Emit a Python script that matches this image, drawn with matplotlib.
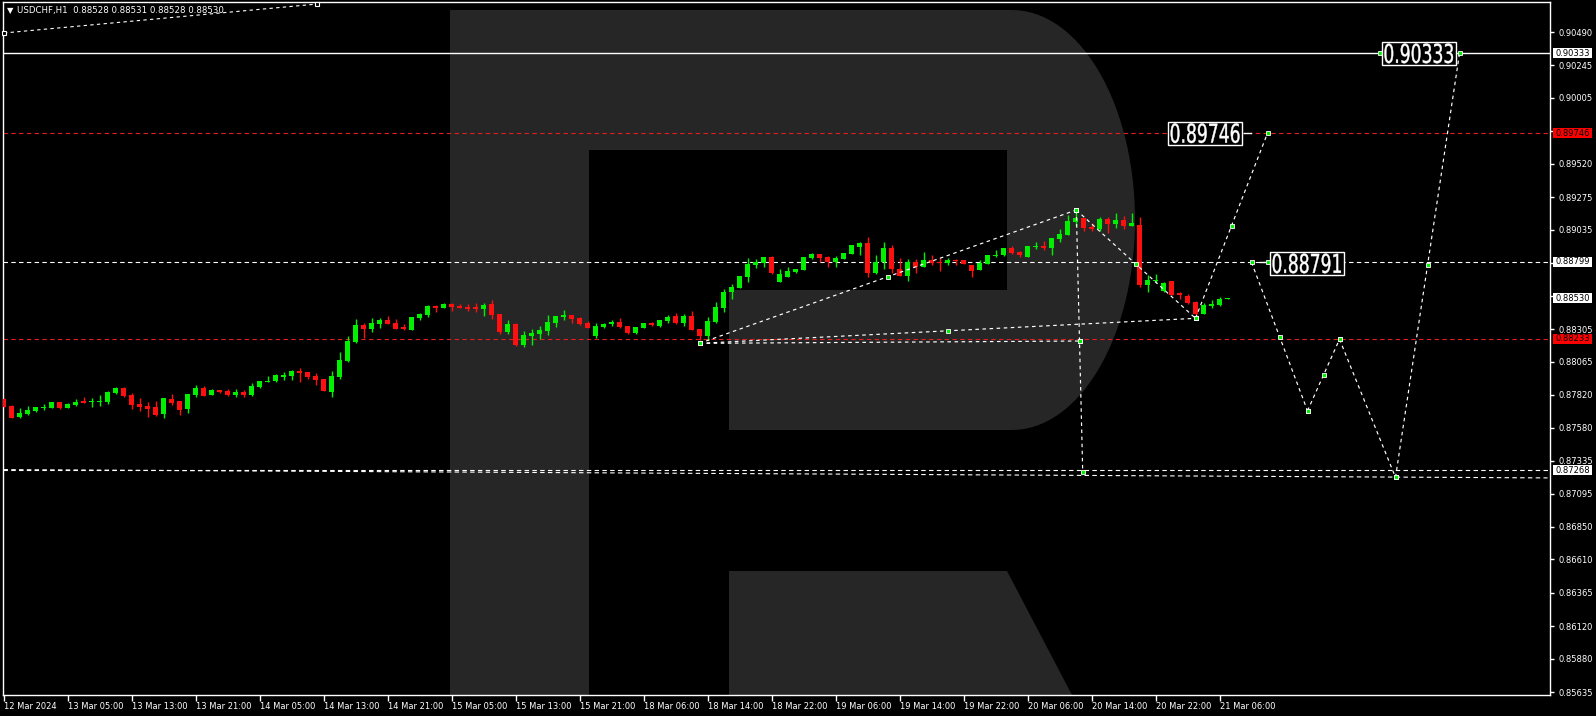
import numpy as np
import matplotlib.pyplot as plt
from matplotlib.patches import Polygon, PathPatch, Rectangle
from matplotlib.textpath import TextPath
from matplotlib.font_manager import FontProperties
from matplotlib.transforms import Affine2D, IdentityTransform

# hourly candles, 12 Mar 21:00 .. 21 Mar 07:00
opens = [0.87790, 0.87739, 0.87658, 0.87680, 0.87702, 0.87724, 0.87726, 0.87768, 0.87726, 0.87746,
         0.87778, 0.87768, 0.87770, 0.87768, 0.87837, 0.87871, 0.87820, 0.87753, 0.87741, 0.87731,
         0.87682, 0.87790, 0.87775, 0.87716, 0.87822, 0.87871, 0.87822, 0.87856, 0.87849, 0.87822,
         0.87842, 0.87822, 0.87878, 0.87918, 0.87925, 0.87954, 0.87962, 0.87996, 0.87989, 0.87959,
         0.87937, 0.87844, 0.87954, 0.88070, 0.88207, 0.88335, 0.88305, 0.88342, 0.88372, 0.88349,
         0.88322, 0.88300, 0.88386, 0.88411, 0.88474, 0.88462, 0.88489, 0.88474, 0.88467, 0.88467,
         0.88452, 0.88489, 0.88416, 0.88283, 0.88342, 0.88188, 0.88254, 0.88269, 0.88291, 0.88349,
         0.88394, 0.88408, 0.88386, 0.88349, 0.88254, 0.88320, 0.88342, 0.88357, 0.88327, 0.88276,
         0.88313, 0.88349, 0.88327, 0.88362, 0.88398, 0.88352, 0.88401, 0.88305, 0.88256, 0.88359,
         0.88462, 0.88577, 0.88607, 0.88690, 0.88776, 0.88793, 0.88835, 0.88650, 0.88690, 0.88724,
         0.88739, 0.88827, 0.88857, 0.88835, 0.88798, 0.88823, 0.88857, 0.88908, 0.88938, 0.88717,
         0.88798, 0.88901, 0.88747, 0.88697, 0.88798, 0.88761, 0.88813, 0.88800, 0.88791, 0.88815,
         0.88813, 0.88776, 0.88739, 0.88786, 0.88845, 0.88850, 0.88904, 0.88874, 0.88838, 0.88906,
         0.88916, 0.88904, 0.88970, 0.89000, 0.89095, 0.89122, 0.89058, 0.89041, 0.89115, 0.89080,
         0.89107, 0.89066, 0.89071, 0.88629, 0.88659, 0.88585, 0.88659, 0.88568, 0.88548, 0.88504,
         0.88416, 0.88477, 0.88482, 0.88528]
highs = [0.87795, 0.87744, 0.87724, 0.87739, 0.87731, 0.87753, 0.87770, 0.87770, 0.87761, 0.87788,
         0.87805, 0.87795, 0.87820, 0.87849, 0.87878, 0.87878, 0.87832, 0.87795, 0.87768, 0.87775,
         0.87795, 0.87827, 0.87775, 0.87827, 0.87893, 0.87883, 0.87861, 0.87856, 0.87864, 0.87864,
         0.87856, 0.87910, 0.87923, 0.87959, 0.87977, 0.87989, 0.88006, 0.88018, 0.87989, 0.87981,
         0.87937, 0.87994, 0.88136, 0.88254, 0.88379, 0.88347, 0.88386, 0.88384, 0.88398, 0.88379,
         0.88342, 0.88394, 0.88425, 0.88482, 0.88482, 0.88494, 0.88497, 0.88487, 0.88487, 0.88497,
         0.88497, 0.88519, 0.88416, 0.88372, 0.88349, 0.88291, 0.88305, 0.88327, 0.88408, 0.88401,
         0.88445, 0.88408, 0.88394, 0.88364, 0.88349, 0.88349, 0.88372, 0.88386, 0.88327, 0.88320,
         0.88349, 0.88357, 0.88371, 0.88408, 0.88420, 0.88413, 0.88438, 0.88305, 0.88391, 0.88504,
         0.88599, 0.88636, 0.88695, 0.88827, 0.88820, 0.88835, 0.88842, 0.88747, 0.88761, 0.88747,
         0.88835, 0.88867, 0.88857, 0.88842, 0.88842, 0.88867, 0.88923, 0.88945, 0.88982, 0.88850,
         0.88945, 0.88923, 0.88827, 0.88820, 0.88820, 0.88872, 0.88850, 0.88827, 0.88827, 0.88823,
         0.88813, 0.88776, 0.88813, 0.88850, 0.88886, 0.88899, 0.88916, 0.88879, 0.88916, 0.88945,
         0.88953, 0.88972, 0.89041, 0.89144, 0.89181, 0.89122, 0.89085, 0.89129, 0.89129, 0.89159,
         0.89137, 0.89159, 0.89129, 0.88703, 0.88710, 0.88649, 0.88659, 0.88578, 0.88561, 0.88511,
         0.88494, 0.88519, 0.88538, 0.88531]
lows = [0.87729, 0.87650, 0.87653, 0.87672, 0.87697, 0.87709, 0.87721, 0.87719, 0.87721, 0.87739,
        0.87758, 0.87734, 0.87741, 0.87756, 0.87824, 0.87807, 0.87719, 0.87702, 0.87660, 0.87665,
        0.87653, 0.87744, 0.87675, 0.87690, 0.87807, 0.87812, 0.87820, 0.87837, 0.87815, 0.87807,
        0.87807, 0.87815, 0.87873, 0.87918, 0.87915, 0.87932, 0.87932, 0.87915, 0.87940, 0.87896,
        0.87849, 0.87807, 0.87940, 0.88062, 0.88200, 0.88237, 0.88286, 0.88315, 0.88342, 0.88305,
        0.88300, 0.88300, 0.88374, 0.88396, 0.88433, 0.88457, 0.88438, 0.88457, 0.88438, 0.88433,
        0.88401, 0.88379, 0.88271, 0.88271, 0.88180, 0.88173, 0.88188, 0.88232, 0.88261, 0.88320,
        0.88372, 0.88349, 0.88335, 0.88313, 0.88239, 0.88313, 0.88327, 0.88313, 0.88269, 0.88269,
        0.88313, 0.88327, 0.88322, 0.88347, 0.88342, 0.88330, 0.88300, 0.88224, 0.88224, 0.88347,
        0.88433, 0.88528, 0.88607, 0.88651, 0.88756, 0.88764, 0.88710, 0.88650, 0.88690, 0.88717,
        0.88739, 0.88820, 0.88798, 0.88761, 0.88761, 0.88820, 0.88857, 0.88850, 0.88688, 0.88710,
        0.88747, 0.88715, 0.88697, 0.88658, 0.88717, 0.88761, 0.88776, 0.88732, 0.88776, 0.88778,
        0.88786, 0.88688, 0.88739, 0.88786, 0.88837, 0.88843, 0.88860, 0.88838, 0.88838, 0.88894,
        0.88887, 0.88852, 0.88948, 0.89000, 0.89063, 0.89029, 0.89024, 0.89029, 0.89014, 0.89051,
        0.89044, 0.89066, 0.88617, 0.88580, 0.88646, 0.88580, 0.88556, 0.88526, 0.88490, 0.88404,
        0.88416, 0.88463, 0.88475, 0.88528]
closes = [0.87734, 0.87653, 0.87687, 0.87709, 0.87729, 0.87731, 0.87768, 0.87726, 0.87753, 0.87768,
          0.87763, 0.87775, 0.87775, 0.87842, 0.87871, 0.87815, 0.87748, 0.87734, 0.87716, 0.87672,
          0.87795, 0.87761, 0.87712, 0.87827, 0.87871, 0.87815, 0.87856, 0.87844, 0.87822, 0.87842,
          0.87820, 0.87886, 0.87923, 0.87923, 0.87969, 0.87969, 0.87996, 0.87981, 0.87954, 0.87932,
          0.87849, 0.87959, 0.88077, 0.88217, 0.88335, 0.88305, 0.88349, 0.88374, 0.88342, 0.88305,
          0.88305, 0.88394, 0.88418, 0.88474, 0.88462, 0.88489, 0.88467, 0.88460, 0.88452, 0.88452,
          0.88482, 0.88411, 0.88283, 0.88342, 0.88188, 0.88261, 0.88278, 0.88298, 0.88357, 0.88401,
          0.88408, 0.88379, 0.88342, 0.88313, 0.88327, 0.88342, 0.88357, 0.88320, 0.88276, 0.88320,
          0.88349, 0.88335, 0.88371, 0.88393, 0.88352, 0.88401, 0.88300, 0.88256, 0.88364, 0.88465,
          0.88577, 0.88614, 0.88695, 0.88783, 0.88798, 0.88835, 0.88717, 0.88710, 0.88732, 0.88747,
          0.88835, 0.88857, 0.88830, 0.88798, 0.88827, 0.88867, 0.88923, 0.88938, 0.88717, 0.88798,
          0.88901, 0.88747, 0.88697, 0.88798, 0.88764, 0.88813, 0.88791, 0.88793, 0.88813, 0.88808,
          0.88786, 0.88732, 0.88791, 0.88850, 0.88850, 0.88899, 0.88867, 0.88847, 0.88916, 0.88916,
          0.88904, 0.88972, 0.89004, 0.89098, 0.89122, 0.89051, 0.89044, 0.89115, 0.89080, 0.89107,
          0.89066, 0.89085, 0.88629, 0.88666, 0.88668, 0.88641, 0.88556, 0.88553, 0.88499, 0.88416,
          0.88482, 0.88489, 0.88529, 0.88530]

tick_pos = [0, 8, 16, 24, 32, 40, 48, 56, 64, 72, 80, 88, 96, 104, 112, 120, 128, 136, 144, 152]
tick_labels = ["12 Mar 2024", "13 Mar 05:00", "13 Mar 13:00", "13 Mar 21:00", "14 Mar 05:00",
               "14 Mar 13:00", "14 Mar 21:00", "15 Mar 05:00", "15 Mar 13:00", "15 Mar 21:00",
               "18 Mar 06:00", "18 Mar 14:00", "18 Mar 22:00", "19 Mar 06:00", "19 Mar 14:00",
               "19 Mar 22:00", "20 Mar 06:00", "20 Mar 14:00", "20 Mar 22:00", "21 Mar 06:00"]
price_ticks = [0.90490, 0.90245, 0.90005, 0.89760, 0.89520, 0.89275, 0.89035, 0.88790, 0.88550,
               0.88305, 0.88065, 0.87820, 0.87580, 0.87335, 0.87095, 0.86850, 0.86610, 0.86365,
               0.86120, 0.85880, 0.85635]
hidden_ticks = [0.89760, 0.88790, 0.88550]   # covered by the price tags

# levels drawn across the chart
level_solid = 0.90333
levels_red = [0.89746, 0.88233]
levels_white = [0.88799, 0.87268]
support_x = [0, 193]
support_y = [0.87271, 0.87210]
old_trend_x = [0.06, 39.2]
old_trend_y = [0.90483, 0.90696]

# swing points of the analysis
L0 = (87, 0.88200)
PK = (134.1, 0.89181)
A = (149, 0.88384)
B0 = (134.9, 0.87253)
C = (158, 0.89746)
# second forecast path
path_x = [156, 163, 167, 174, 182]
path_y = [0.88796, 0.87704, 0.88230, 0.87214, 0.90333]

# axis price tags: value, colour
tags = [(0.90333, "white"), (0.89746, "#ff0000"), (0.88799, "white"),
        (0.88530, "white"), (0.88233, "#ff0000"), (0.87268, "white")]
# big boxed targets: text, bar position, price
targets = [("0.89746", 150.2, 0.89746), ("0.88791", 162.9, 0.88788), ("0.90333", 176.9, 0.90333)]

GREEN = "#00f000"
RED = "#ff1010"
RED_LINE = "#e02020"
WM = "#262626"
FS = 6

fig = plt.figure(figsize=(15.96, 7.16), dpi=100, facecolor="black")

# watermark "R" in pixel coordinates
bg = fig.add_axes([0, 0, 1, 1])
bg.set_xlim(0, 1596)
bg.set_ylim(716, 0)
bg.axis("off")
t = np.linspace(np.pi / 2, -np.pi / 2, 60)
arc = np.column_stack([1012 + 123 * np.cos(t), 220 - 210 * np.sin(t)])
r_body = np.vstack([[[450, 10]], arc, [[729, 430], [729, 290], [1007, 290], [1007, 150],
                                        [589, 150], [589, 695], [450, 695]]])
bg.add_patch(Polygon(r_body, closed=True, fc=WM, ec="none"))
bg.add_patch(Polygon([[729, 571], [1007, 571], [1072, 695], [729, 695]], closed=True, fc=WM, ec="none"))

ax = fig.add_axes([3 / 1596, 21 / 716, 1547 / 1596, 693 / 716])
ax.set_facecolor("none")
ax.set_xlim(-0.0625, 193.31)
ax.set_ylim(0.85613, 0.90711)

o = np.array(opens); h = np.array(highs); l = np.array(lows); c = np.array(closes)
x = np.arange(len(c))
col = np.where(c >= o, GREEN, RED)
ax.vlines(x, l, h, colors=col, lw=1, zorder=3)
lo = np.minimum(o, c)
hh = np.abs(c - o)
minh = 0.00007
bot = np.where(hh < minh, lo - (minh - hh) / 2, lo)
ax.bar(x, np.maximum(hh, minh), bottom=bot, width=0.68, color=col, lw=0, zorder=3)

# horizontal levels
ax.axhline(level_solid, color="white", lw=1, zorder=2)
for v in levels_red:
    ax.axhline(v, color=RED_LINE, lw=0.8, ls=(0, (4, 3)), zorder=2)
for v in levels_white:
    ax.axhline(v, color="white", lw=0.8, ls=(0, (4, 3)), zorder=2)
ax.plot(support_x, support_y, color="white", lw=0.8, ls=(0, (4, 3)), zorder=2)
ax.plot(old_trend_x, old_trend_y, color="white", lw=0.8, ls=(0, (3, 3)), zorder=2)
ax.plot(old_trend_x, old_trend_y, ls="none", marker="s", ms=3.5, mfc="black", mec="white",
        mew=0.8, zorder=4, clip_on=False)

dash = dict(color="white", lw=0.85, ls=(0, (3, 3)), zorder=4)
mk = dict(ls="none", marker="s", ms=3.2, mfc=GREEN, mec="white", mew=0.6, zorder=5)


def seg(p, q, mid=True):
    ax.plot([p[0], q[0]], [p[1], q[1]], **dash)
    pts = [p, q]
    if mid:
        pts.append(((p[0] + q[0]) / 2, (p[1] + q[1]) / 2))
    ax.plot([a[0] for a in pts], [a[1] for a in pts], **mk)


M = ((PK[0] + B0[0]) / 2, (PK[1] + B0[1]) / 2)
seg(L0, PK)
seg(L0, A)
seg(PK, B0)
seg(L0, M, mid=False)
seg(PK, A)
seg(A, C)
pts = list(zip(path_x, path_y))
for i in range(len(pts) - 1):
    seg(pts[i], pts[i + 1], mid=(i != 2))

ax.plot([C[0] - 3.0, C[0] - 2.1], [C[1], C[1]], color="white", lw=1, zorder=5)
ax.plot([path_x[0] + 1.1, path_x[0] + 2.0], [path_y[0], path_y[0]], color="white", lw=1, zorder=5)
ax.plot([path_x[0] + 2.1], [path_y[0]], **mk)
ax.plot([172.1], [level_solid], **mk)

# boxed targets, condensed text drawn as paths (pixel units)
prop = FontProperties(family="DejaVu Sans")
for txt, bx, by in targets:
    cx, cy = ax.transData.transform((bx, by))
    tp = TextPath((0, 0), txt, size=26, prop=prop)
    e = tp.get_extents()
    tf = Affine2D().translate(-e.x0 - e.width / 2, -e.y0 - e.height / 2).scale(0.66, 1.0).translate(cx, cy)
    ax.add_patch(Rectangle((cx - 37, cy - 11.5), 74, 23, transform=IdentityTransform(),
                           fc="black", ec="white", lw=1, zorder=6, clip_on=False))
    ax.add_patch(PathPatch(tp, transform=tf, fc="white", ec="white", lw=0.3, zorder=7, clip_on=False))

# axes styling
for s in ax.spines.values():
    s.set_color("white")
    s.set_linewidth(1)
ax.yaxis.tick_right()
ax.set_yticks(price_ticks)
ax.set_yticklabels(["" if v in hidden_ticks else f"{v:.5f}" for v in price_ticks])
ax.set_xticks(tick_pos)
ax.set_xticklabels(tick_labels, ha="left")
ax.tick_params(axis="y", colors="white", length=3, width=1, pad=3, labelsize=FS)
ax.tick_params(axis="x", colors="white", length=4, width=1, pad=1, labelsize=FS)

# price tags on the axis
x_tag = ax.transAxes.transform((1, 0))[0]
for v, fc in tags:
    ty = ax.transData.transform((0, v))[1]
    ax.add_patch(Rectangle((x_tag + 3, ty - 5), 39, 10, transform=IdentityTransform(),
                           fc=fc, ec="none", zorder=6, clip_on=False))
    ax.text(x_tag + 5, ty, f"{v:.5f}", transform=IdentityTransform(), color="black",
            fontsize=FS, ha="left", va="center", zorder=7, clip_on=False)

fig.text(7 / 1596, 1 - 11 / 716, "\u25bc", color="white", fontsize=6, va="center", ha="left")
fig.text(17 / 1596, 1 - 11 / 716, "USDCHF,H1  0.88528 0.88531 0.88528 0.88530", color="white",
         fontsize=6.2, va="center", ha="left")

fig.savefig("out.png", dpi=100, facecolor="black")
